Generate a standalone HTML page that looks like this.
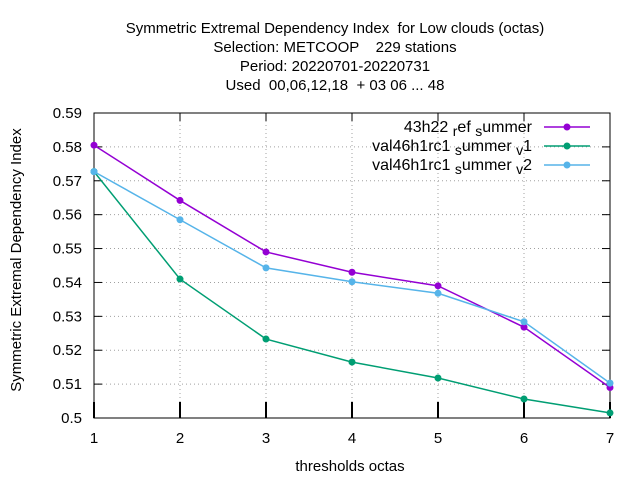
<!DOCTYPE html>
<html><head><meta charset="utf-8"><style>
body{margin:0;background:#fff}
svg text{font-family:"Liberation Sans",sans-serif;font-size:15px;fill:#000;white-space:pre}
svg text.leg{font-size:16px}
svg text.leg tspan.sub{font-size:14px}
</style></head><body>
<svg id="chart" width="640" height="480" xmlns="http://www.w3.org/2000/svg" xml:space="preserve">
<g text-anchor="middle">
<text x="335" y="33">Symmetric Extremal Dependency Index  for Low clouds (octas)</text>
<text x="335" y="52">Selection: METCOOP    229 stations</text>
<text x="335" y="71">Period: 20220701-20220731</text>
<text x="335" y="90">Used  00,06,12,18  + 03 06 ... 48</text>
</g>
<g id="grid"></g>
<g id="axes"></g>
<g id="series"></g>
<text x="350" y="471" text-anchor="middle">thresholds octas</text>
<text transform="translate(21,260) rotate(-90)" text-anchor="middle">Symmetric Extremal Dependency Index</text>
<g id="legend"></g>
</svg>
<script>
const categories=[1,2,3,4,5,6,7];
const yTicks=[0.5,0.51,0.52,0.53,0.54,0.55,0.56,0.57,0.58,0.59];
const seriesNames=[[["43h22 ",0],["r",1],["ef ",0],["s",1],["ummer",0]],[["val46h1rc1 ",0],["s",1],["ummer ",0],["v",1],["1",0]],[["val46h1rc1 ",0],["s",1],["ummer ",0],["v",1],["2",0]]];
const refSummer=[0.5805,0.5642,0.549,0.543,0.539,0.5268,0.509];
const valV1=[0.5727,0.541,0.5233,0.5165,0.5118,0.5056,0.5015];
const valV2=[0.5727,0.5585,0.5443,0.5402,0.5368,0.5284,0.5103];
const colors=["#9400d3","#009e73","#56b4e9"];
const L=94,R=610,T=113,B=418;
const xs=v=>L+(v-1)/(6)*(R-L);
const ys=v=>B-(v-0.5)/0.09*(B-T);
const NS="http://www.w3.org/2000/svg";
function mk(t,a,p){const e=document.createElementNS(NS,t);for(const k in a)e.setAttribute(k,a[k]);p.appendChild(e);return e;}
const grid=document.getElementById('grid'),axes=document.getElementById('axes');
yTicks.forEach(t=>{const y=ys(t);
 if(t>0.5&&t<0.59){const g=mk('line',{x1:L,x2:R,y1:y,y2:y,stroke:'#a0a0a0','stroke-dasharray':'1,3'},grid);}
 const tk=mk('line',{x1:L,x2:L+8,y1:y,y2:y,stroke:'#000'},axes);
 mk('line',{x1:R-8,x2:R,y1:y,y2:y,stroke:'#000'},axes);
 const tx=mk('text',{x:L-12,y:y+5,'text-anchor':'end'},axes);tx.textContent=(t===0.5?'0.5':t.toFixed(2));});
categories.forEach(c=>{const x=xs(c);
 if(c>1&&c<7){const g=mk('line',{x1:x,x2:x,y1:T,y2:B,stroke:'#a0a0a0','stroke-dasharray':'1,3'},grid);}
 const tk=mk('line',{x1:x,x2:x,y1:B-16,y2:B,stroke:'#000','stroke-width':2},axes);
 mk('line',{x1:x,x2:x,y1:T,y2:T+8,stroke:'#000'},axes);
 const tx=mk('text',{x:x,y:B+25,'text-anchor':'middle'},axes);tx.textContent=c;});
const fr=mk('rect',{x:L,y:T,width:R-L,height:B-T,fill:'none',stroke:'#000'},axes);
const sg=document.getElementById('series'),lg=document.getElementById('legend');
[refSummer,valV1,valV2].forEach((d,i)=>{
 const pl=mk('polyline',{points:d.map((v,j)=>xs(categories[j])+','+ys(v)).join(' '),fill:'none',stroke:colors[i],'stroke-width':1.5},sg);
 
 d.forEach((v,j)=>{const m=mk('circle',{cx:xs(categories[j]),cy:ys(v),r:3.5,fill:colors[i]},sg);});
 const ly=127+i*19;
 const ll=mk('line',{x1:544,x2:590,y1:ly,y2:ly,stroke:colors[i],'stroke-width':1.5},lg);
 mk('circle',{cx:567,cy:ly,r:3.5,fill:colors[i]},lg);
 const tx=mk('text',{x:532,y:ly+5,'text-anchor':'end','class':'leg'},lg);
 let prev=0;
 seriesNames[i].forEach(([s,sub])=>{const ts=mk('tspan',{},tx);ts.textContent=s;
  const dy=sub?4:0;if(dy!==prev)ts.setAttribute('dy',dy-prev);prev=dy;if(sub)ts.setAttribute('class','sub');});
});
</script>
</body></html>
